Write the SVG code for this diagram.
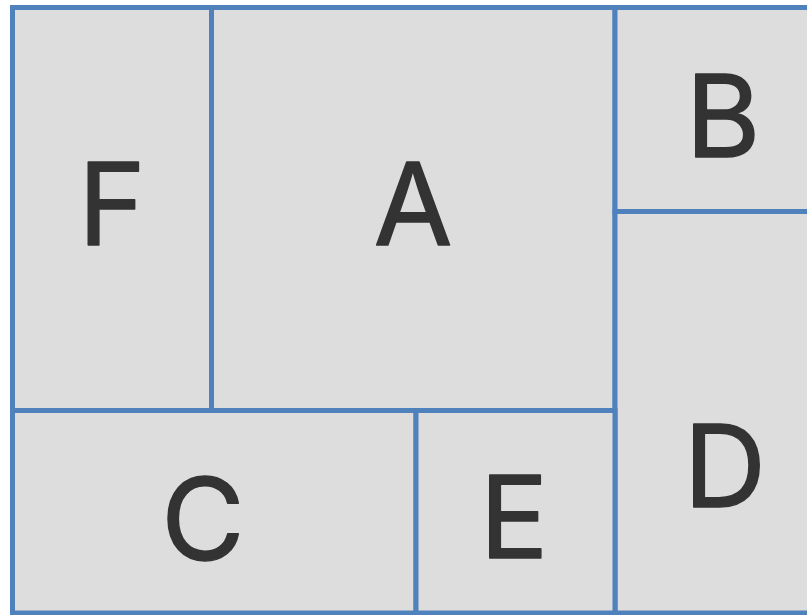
<svg xmlns="http://www.w3.org/2000/svg" width="807" height="615" viewBox="0 0 807 615">
<style>
.cell{fill:#dddddd;stroke:#4f81bd;stroke-width:5}
.lbl{font-family:Inter,"Open Sans","Liberation Sans",sans-serif;font-size:114px;fill:#333333;stroke:#333333;stroke-width:1.5;stroke-linejoin:round;text-anchor:middle}
</style>
<rect x="0" y="0" width="807" height="615" fill="#ffffff"/>
<g id="F"><rect class="cell" x="12.5" y="7.5" width="199" height="403"/><text class="lbl" x="112" y="245">F</text></g>
<g id="A"><rect class="cell" x="211.5" y="7.5" width="403.5" height="403"/><text class="lbl" x="413" y="245">A</text></g>
<g id="B"><rect class="cell" x="615" y="7.5" width="220" height="204"/><text class="lbl" x="723" y="157">B</text></g>
<g id="D"><rect class="cell" x="615" y="211.5" width="220" height="401.5"/><text class="lbl" x="725" y="507">D</text></g>
<g id="C"><rect class="cell" x="12.5" y="410.5" width="403.5" height="202.5"/><text class="lbl" x="203" y="560">C</text></g>
<g id="E"><rect class="cell" x="416" y="410.5" width="199" height="202.5"/><text class="lbl" x="514" y="558">E</text></g>
<g id="connectors"/>
</svg>
